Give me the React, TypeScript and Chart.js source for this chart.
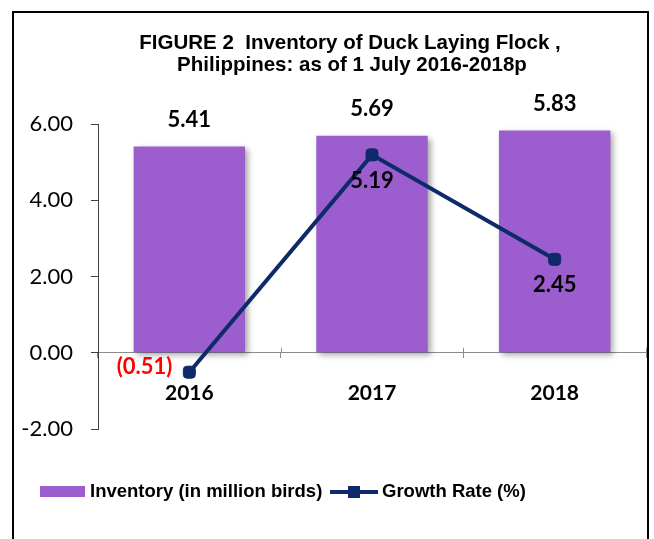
import React, { useEffect, useRef } from "react";
import { Chart, registerables } from "chart.js";

Chart.register(...registerables);

const years = ["2016", "2017", "2018"];
const inventory = [5.41, 5.69, 5.83];
const growthRate = [-0.51, 5.19, 2.45];
const yTicks = [-2, 0, 2, 4, 6];
const titleLines = [
  "FIGURE 2  Inventory of Duck Laying Flock ,",
  "Philippines: as of 1 July 2016-2018p",
];
const legendLabels = ["Inventory (in million birds)", "Growth Rate (%)"];

const BAR_COLOR = "#9C5ECE";
const LINE_COLOR = "#0E2A6A";
const CAL = "Lato, 'Open Sans', sans-serif";
const ARIAL = "'Liberation Sans', Arial, sans-serif";

const fmt = (v: number) => (v < 0 ? `(${Math.abs(v).toFixed(2)})` : v.toFixed(2));

export default function App() {
  const ref = useRef<HTMLCanvasElement | null>(null);

  useEffect(() => {
    if (!ref.current) return;

    const decor = {
      id: "decor",
      beforeDraw(chart: any) {
        const ctx = chart.ctx;
        ctx.save();
        ctx.fillStyle = "#ffffff";
        ctx.fillRect(0, 0, chart.width, chart.height);
        ctx.restore();
      },
      beforeDatasetDraw(chart: any, args: any) {
        if (args.index === 0) {
          const ctx = chart.ctx;
          ctx.save();
          ctx.shadowColor = "rgba(0,0,0,0.35)";
          ctx.shadowBlur = 6;
          ctx.shadowOffsetX = 3;
          ctx.shadowOffsetY = 3;
        }
      },
      afterDatasetDraw(chart: any, args: any) {
        if (args.index === 0) chart.ctx.restore();
      },
      afterDatasetsDraw(chart: any) {
        const ctx = chart.ctx;
        const x = chart.scales.x;
        // upper half of category tick marks
        ctx.save();
        ctx.strokeStyle = "#8c8c8c";
        ctx.lineWidth = 1;
        const y0 = chart.scales.y.getPixelForValue(0);
        const step = x.getPixelForValue(1) - x.getPixelForValue(0);
        for (let i = 1; i <= years.length; i++) {
          const px = Math.round(x.getPixelForValue(i) - step / 2) + 0.5;
          ctx.beginPath();
          ctx.moveTo(px, y0 - 5);
          ctx.lineTo(px, y0);
          ctx.stroke();
        }
        ctx.restore();

        // bar value labels
        const barMeta = chart.getDatasetMeta(0);
        ctx.save();
        ctx.font = `bold 22px ${CAL}`;
        ctx.textAlign = "center";
        ctx.textBaseline = "middle";
        ctx.fillStyle = "#000";
        barMeta.data.forEach((el: any, i: number) => {
          ctx.fillText(fmt(inventory[i]), el.x, el.y - 27);
        });
        // line value labels
        const lineMeta = chart.getDatasetMeta(1);
        lineMeta.data.forEach((el: any, i: number) => {
          const v = growthRate[i];
          if (v < 0) {
            ctx.fillStyle = "#FF0000";
            ctx.textAlign = "right";
            ctx.fillText(fmt(v), el.x - 17, el.y - 5);
          } else {
            ctx.fillStyle = "#000";
            ctx.textAlign = "center";
            ctx.fillText(fmt(v), el.x, el.y + 26);
          }
        });
        ctx.restore();
      },
      afterDraw(chart: any) {
        const ctx = chart.ctx;
        ctx.save();
        // title
        ctx.fillStyle = "#000";
        ctx.font = `bold 20.5px ${ARIAL}`;
        ctx.textAlign = "center";
        ctx.textBaseline = "middle";
        ctx.fillText(titleLines[0], 350, 43);
        ctx.fillText(titleLines[1], 352, 65);

        // legend
        const ly = 492;
        ctx.font = `bold 18.5px ${ARIAL}`;
        ctx.fillStyle = BAR_COLOR;
        ctx.fillRect(40, 486, 45, 11);
        ctx.fillStyle = "#000";
        ctx.textAlign = "left";
        ctx.fillText(legendLabels[0], 90, ly);
        ctx.strokeStyle = LINE_COLOR;
        ctx.lineWidth = 4;
        ctx.beginPath();
        ctx.moveTo(330, ly);
        ctx.lineTo(378, ly);
        ctx.stroke();
        ctx.fillStyle = LINE_COLOR;
        ctx.fillRect(348, ly - 6, 12, 12);
        ctx.fillStyle = "#000";
        ctx.fillText(legendLabels[1], 382, ly);

        // frame
        ctx.strokeStyle = "#000";
        ctx.lineWidth = 2;
        ctx.strokeRect(13, 12, 635, 560);
        ctx.restore();
      },
    };

    const chart = new Chart(ref.current, {
      type: "bar",
      data: {
        labels: years,
        datasets: [
          {
            type: "bar",
            label: legendLabels[0],
            data: inventory,
            backgroundColor: BAR_COLOR,
            barPercentage: 0.61,
            categoryPercentage: 1,
            order: 2,
          },
          {
            type: "line",
            label: legendLabels[1],
            data: growthRate,
            borderColor: LINE_COLOR,
            borderWidth: 4,
            backgroundColor: LINE_COLOR,
            pointStyle: "rectRounded",
            pointRadius: 7,
            pointBorderWidth: 1,
            pointBorderColor: LINE_COLOR,
            pointBackgroundColor: LINE_COLOR,
            tension: 0,
            order: 1,
          } as any,
        ],
      },
      options: {
        responsive: false,
        animation: false,
        layout: { padding: { left: 0, right: 4, top: 124, bottom: 110 } },
        plugins: {
          legend: { display: false },
          title: { display: false },
          tooltip: { enabled: false },
        },
        scales: {
          x: {
            type: "category",
            position: { y: 0 } as any,
            offset: true,
            grid: {
              offset: true,
              drawOnChartArea: false,
              drawTicks: true,
              tickLength: 5,
              color: "#8c8c8c",
            },
            border: { color: "#8c8c8c", width: 1 },
            ticks: {
              color: "#000",
              font: { family: CAL, size: 21, weight: "bold" },
              padding: 23,
              maxRotation: 0,
            },
          },
          y: {
            min: -2,
            max: 6,
            afterFit: (scale: any) => {
              scale.width = 98;
            },
            afterBuildTicks: (scale: any) => {
              scale.ticks = yTicks.map((v) => ({ value: v }));
            },
            grid: {
              drawOnChartArea: false,
              drawTicks: true,
              tickLength: 7,
              color: "#404040",
            },
            border: { color: "#404040", width: 1 },
            ticks: {
              color: "#000",
              font: { family: CAL, size: 22 },
              padding: 18,
              callback: (v: any) => Number(v).toFixed(2),
            },
          },
        },
      },
      plugins: [decor],
    });

    return () => chart.destroy();
  }, []);

  return (
    <div style={{ position: "absolute", left: 0, top: 0, width: 654, height: 539, background: "#fff" }}>
      <canvas ref={ref} width={654} height={539} style={{ display: "block" }} />
    </div>
  );
}
